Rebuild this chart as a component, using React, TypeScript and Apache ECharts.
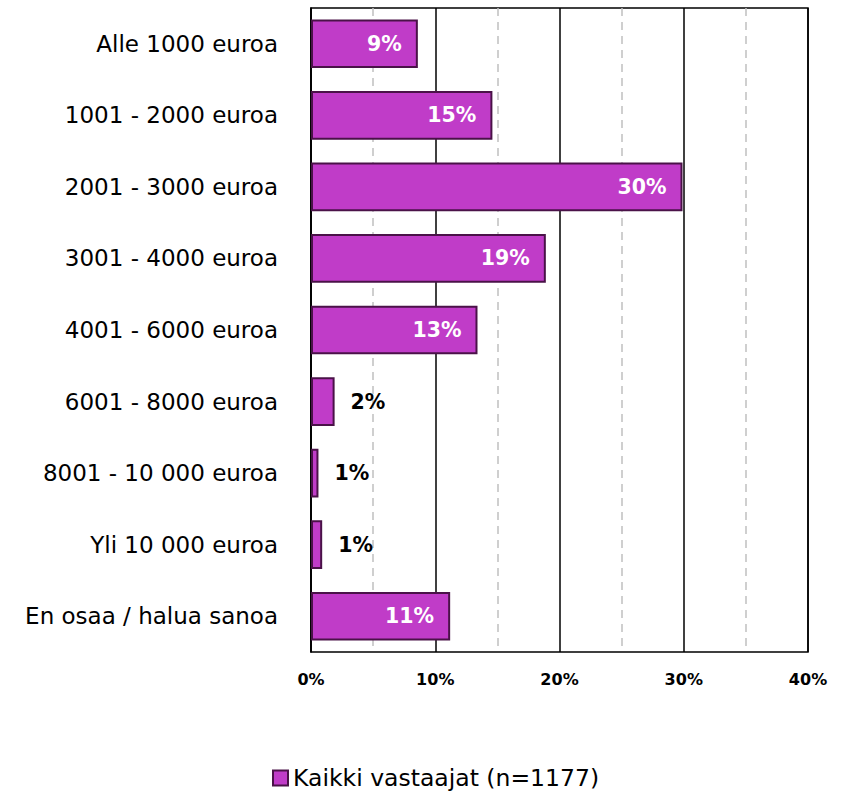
import React, { useEffect, useRef } from "react";
import * as echarts from "echarts";

const categories = [
  "Alle 1000 euroa",
  "1001 - 2000 euroa",
  "2001 - 3000 euroa",
  "3001 - 4000 euroa",
  "4001 - 6000 euroa",
  "6001 - 8000 euroa",
  "8001 - 10 000 euroa",
  "Yli 10 000 euroa",
  "En osaa / halua sanoa",
];
const values = [8.6, 14.6, 29.9, 18.9, 13.4, 1.9, 0.6, 0.9, 11.2];
const labels = ["9%", "15%", "30%", "19%", "13%", "2%", "1%", "1%", "11%"];
const seriesName = "Kaikki vastaajat (n=1177)";

const FONT = "DejaVu Sans";

export default function App() {
  const ref = useRef<HTMLDivElement>(null);
  useEffect(() => {
    const chart = echarts.init(ref.current!, null, { renderer: "svg" });
    chart.setOption({
      animation: false,
      grid: {
        left: 311,
        top: 8,
        width: 497,
        height: 644,
        show: true,
        borderColor: "#000",
        borderWidth: 1.5,
        containLabel: false,
      },
      legend: {
        top: 761,
        left: 267,
        itemWidth: 15,
        itemHeight: 15,
        itemGap: 4,
        textStyle: { fontFamily: FONT, fontSize: 23.5, color: "#000" },
        data: [{ name: seriesName, icon: "rect" }],
      },
      xAxis: {
        type: "value",
        min: 0,
        max: 40,
        interval: 10,
        axisLine: { show: false },
        axisTick: { show: false },
        axisLabel: {
          formatter: "{value}%",
          fontFamily: FONT,
          fontWeight: "bold",
          fontSize: 16,
          color: "#000",
          margin: 19,
        },
        splitLine: { show: true, lineStyle: { color: "#000", width: 1.5 } },
        minorTick: { show: false, splitNumber: 2 },
        minorSplitLine: {
          show: true,
          lineStyle: { color: "#c0c0c0", width: 1.5, type: [8, 6] },
        },
      },
      yAxis: {
        type: "category",
        inverse: true,
        data: categories,
        axisLine: { show: true, lineStyle: { color: "#000", width: 1.5 } },
        axisTick: { show: false },
        axisLabel: {
          fontFamily: FONT,
          fontSize: 23,
          color: "#000",
          margin: 33,
        },
      },
      series: [
        {
          name: seriesName,
          type: "bar",
          barWidth: "68%",
          data: values.map((v, i) => ({
            value: v,
            label:
              v < 5
                ? {
                    show: true,
                    position: "right",
                    distance: 16,
                    color: "#000",
                    formatter: labels[i],
                  }
                : {
                    show: true,
                    position: "insideRight",
                    distance: 16,
                    color: "#fff",
                    formatter: labels[i],
                  },
          })),
          itemStyle: { color: "#c03cc8", borderColor: "#4a1248", borderWidth: 2 },
          label: {
            fontFamily: FONT,
            fontWeight: "bold",
            fontSize: 20.5,
          },
        },
      ],
    });
    return () => chart.dispose();
  }, []);
  return (
    <div
      ref={ref}
      style={{ position: "absolute", left: 0, top: 0, width: 844, height: 792 }}
    />
  );
}
